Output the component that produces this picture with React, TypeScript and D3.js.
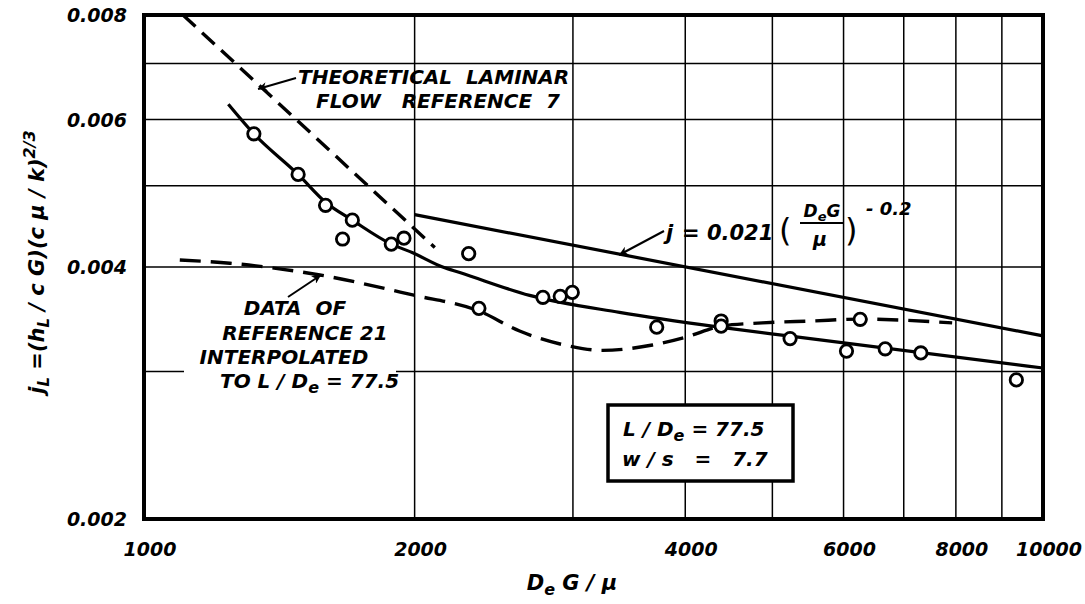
import React from "react";
import * as d3 from "d3";

// ---- data ----
const xTicks = [1000, 2000, 4000, 6000, 8000, 10000];
const yTicks = [0.002, 0.004, 0.006, 0.008];
const xGrid = [2000, 3000, 4000, 5000, 6000, 7000, 8000, 9000];
const yGrid = [0.003, 0.004, 0.005, 0.006, 0.007];

// test data points (open circles)
const testRe = [1325, 1484, 1592, 1705, 1663, 1884, 1946, 2297, 2358, 2778, 2904, 2995, 3718, 4385, 4385, 5232, 6045, 6261, 6675, 7313, 9340];
const testJ = [0.00577, 0.00516, 0.00474, 0.00455, 0.00432, 0.00426, 0.00433, 0.00415, 0.00357, 0.00368, 0.00369, 0.00373, 0.00339, 0.003448, 0.0034, 0.003285, 0.003174, 0.003464, 0.003194, 0.003158, 0.002932];

// faired curve through test data (solid)
const fitRe = [1241, 1325, 1484, 1592, 1705, 1884, 1990, 2149, 2245, 2685, 3380, 4365, 5317, 10000];
const fitJ = [0.00626, 0.00577, 0.00516, 0.00478, 0.00455, 0.00426, 0.00416, 0.004, 0.00394, 0.0037, 0.00353, 0.00339, 0.0033, 0.00303];

// j = 0.021 (DeG/mu)^-0.2 (solid straight line)
const empRe = [2000, 10000];
const empJ = [0.00462, 0.00331];

// theoretical laminar flow, reference 7 (dashed)
const lamRe = [1105, 2106];
const lamJ = [0.008, 0.00422];

// data of reference 21 interpolated (dashed)
const refRe = [1096, 1246, 1569, 1990, 2358, 2617, 2974, 3236, 3678, 4012, 4387, 4873, 5538, 6261, 6972, 7924];
const refJ = [0.004078, 0.004042, 0.003913, 0.003704, 0.003544, 0.003354, 0.003218, 0.00318, 0.003228, 0.0033, 0.0034, 0.00343, 0.003448, 0.003466, 0.003456, 0.00343];

const W = 1085;
const H = 604;
const L = 144, R = 1043, T = 15, B = 519;

const FONT = "'DejaVu Sans', sans-serif";

export default function App() {
  const x = d3.scaleLog().domain([1000, 10000]).range([L, R]);
  const y = d3.scaleLog().domain([0.002, 0.008]).range([B, T]);

  const line = d3
    .line<[number, number]>()
    .x((d) => x(d[0]))
    .y((d) => y(d[1]))
    .curve(d3.curveMonotoneX);
  const straight = d3
    .line<[number, number]>()
    .x((d) => x(d[0]))
    .y((d) => y(d[1]));

  const zip = (a: number[], b: number[]) => a.map((v, i) => [v, b[i]] as [number, number]);

  const fmtY = (v: number) => v.toFixed(3);

  const txt = {
    fontFamily: FONT,
    fontWeight: "bold" as const,
    fontStyle: "italic" as const,
    fill: "#000",
  };

  return (
    <svg width={W} height={H} style={{ position: "absolute", left: 0, top: 0, background: "#fff" }}>
      <defs>
        <marker id="ah" viewBox="0 0 10 10" refX="10" refY="5" markerWidth="16" markerHeight="9" markerUnits="userSpaceOnUse" orient="auto">
          <path d="M0,0 L10,5 L0,10 L3,5 z" fill="#000" />
        </marker>
      </defs>
      <rect x={0} y={0} width={W} height={H} fill="#fff" />

      {/* grid */}
      <g stroke="#000" strokeWidth={1.5}>
        {xGrid.map((v) => (
          <line key={"gx" + v} x1={x(v)} x2={x(v)} y1={T} y2={B} />
        ))}
        {yGrid.map((v) => (
          <line key={"gy" + v} x1={L} x2={R} y1={y(v)} y2={y(v)} />
        ))}
      </g>

      {/* white patch behind left annotation over the 0.003 grid line */}
      <rect x={184} y={366} width={212} height={10} fill="#fff" />

      {/* curves */}
      <path d={straight(zip(lamRe, lamJ)) || ""} fill="none" stroke="#000" strokeWidth={3.4} strokeDasharray="17 9" />
      <path d={line(zip(refRe, refJ)) || ""} fill="none" stroke="#000" strokeWidth={3.4} strokeDasharray="21 10" />
      <path d={line(zip(fitRe, fitJ)) || ""} fill="none" stroke="#000" strokeWidth={3.2} />
      <path d={straight(zip(empRe, empJ)) || ""} fill="none" stroke="#000" strokeWidth={3.2} />

      {/* data points */}
      {testRe.map((v, i) => (
        <circle key={"p" + i} cx={x(v)} cy={y(testJ[i])} r={6.2} fill="#fff" stroke="#000" strokeWidth={2.8} />
      ))}

      {/* frame */}
      <rect x={L} y={T} width={R - L} height={B - T} fill="none" stroke="#000" strokeWidth={4} />

      {/* y tick labels */}
      {yTicks.map((v) => (
        <text key={"ty" + v} x={127} y={y(v) + 7} textAnchor="end" fontSize={19} {...txt}>
          {fmtY(v)}
        </text>
      ))}
      {/* x tick labels */}
      {xTicks.map((v) => (
        <text key={"tx" + v} x={x(v) + 6} y={556} textAnchor="middle" fontSize={19} {...txt}>
          {v}
        </text>
      ))}

      {/* axis titles */}
      <text x={572} y={590} textAnchor="middle" fontSize={21} {...txt}>
        D<tspan dy={5} fontSize={16}>e</tspan>
        <tspan dy={-5}> G / μ</tspan>
      </text>
      <text transform="translate(44,262) rotate(-90)" textAnchor="middle" fontSize={21} {...txt}>
        j<tspan dy={5} fontSize={15}>L</tspan>
        <tspan dy={-5}> =(h</tspan>
        <tspan dy={5} fontSize={15}>L</tspan>
        <tspan dy={-5}> / c G)(c μ / k)</tspan>
        <tspan dy={-9} fontSize={16}>2/3</tspan>
      </text>

      {/* theoretical laminar annotation */}
      <text x={298} y={84} fontSize={20} {...txt} style={{ whiteSpace: "pre" }}>
        THEORETICAL  LAMINAR
      </text>
      <text x={316} y={108} fontSize={20} {...txt} style={{ whiteSpace: "pre" }}>
        FLOW   REFERENCE  7
      </text>
      <line x1={296} y1={78} x2={258} y2={89} stroke="#000" strokeWidth={2} markerEnd="url(#ah)" />

      {/* reference 21 annotation */}
      <text x={295} y={315} textAnchor="middle" fontSize={20} {...txt} style={{ whiteSpace: "pre" }}>
        DATA  OF
      </text>
      <text x={305} y={340} textAnchor="middle" fontSize={20} {...txt}>
        REFERENCE 21
      </text>
      <text x={284} y={364} textAnchor="middle" fontSize={20} {...txt}>
        INTERPOLATED
      </text>
      <text x={220} y={388} fontSize={20} {...txt}>
        TO L / D<tspan dy={5} fontSize={16}>e</tspan>
        <tspan dy={-5}> = 77.5</tspan>
      </text>
      <line x1={288} y1={297} x2={321} y2={275} stroke="#000" strokeWidth={2} markerEnd="url(#ah)" />

      {/* equation annotation */}
      <line x1={664} y1={231} x2={619} y2={255} stroke="#000" strokeWidth={2} markerEnd="url(#ah)" />
      <text x={666} y={240} fontSize={21} {...txt}>
        j
      </text>
      <text x={682} y={240} fontSize={21} {...txt}>
        = 0.021
      </text>
      <text x={779} y={241} fontSize={32} fontFamily={FONT} fill="#000">
        (
      </text>
      <text x={822} y={217} textAnchor="middle" fontSize={17} {...txt}>
        D<tspan dy={4} fontSize={13}>e</tspan>
        <tspan dy={-4}>G</tspan>
      </text>
      <line x1={800} x2={844} y1={223} y2={223} stroke="#000" strokeWidth={2} />
      <text x={820} y={246} textAnchor="middle" fontSize={19} {...txt}>
        μ
      </text>
      <text x={845} y={241} fontSize={32} fontFamily={FONT} fill="#000">
        )
      </text>
      <text x={866} y={215} fontSize={18} {...txt}>
        - 0.2
      </text>

      {/* parameter box */}
      <rect x={608} y={405} width={185} height={76} fill="#fff" stroke="#000" strokeWidth={3.5} />
      <text x={623} y={436} fontSize={20} {...txt} style={{ whiteSpace: "pre" }}>
        L / D<tspan dy={5} fontSize={16}>e</tspan>
        <tspan dy={-5}> = 77.5</tspan>
      </text>
      <text x={622} y={466} fontSize={20} {...txt} style={{ whiteSpace: "pre" }}>
        w / s   =   7.7
      </text>
    </svg>
  );
}
